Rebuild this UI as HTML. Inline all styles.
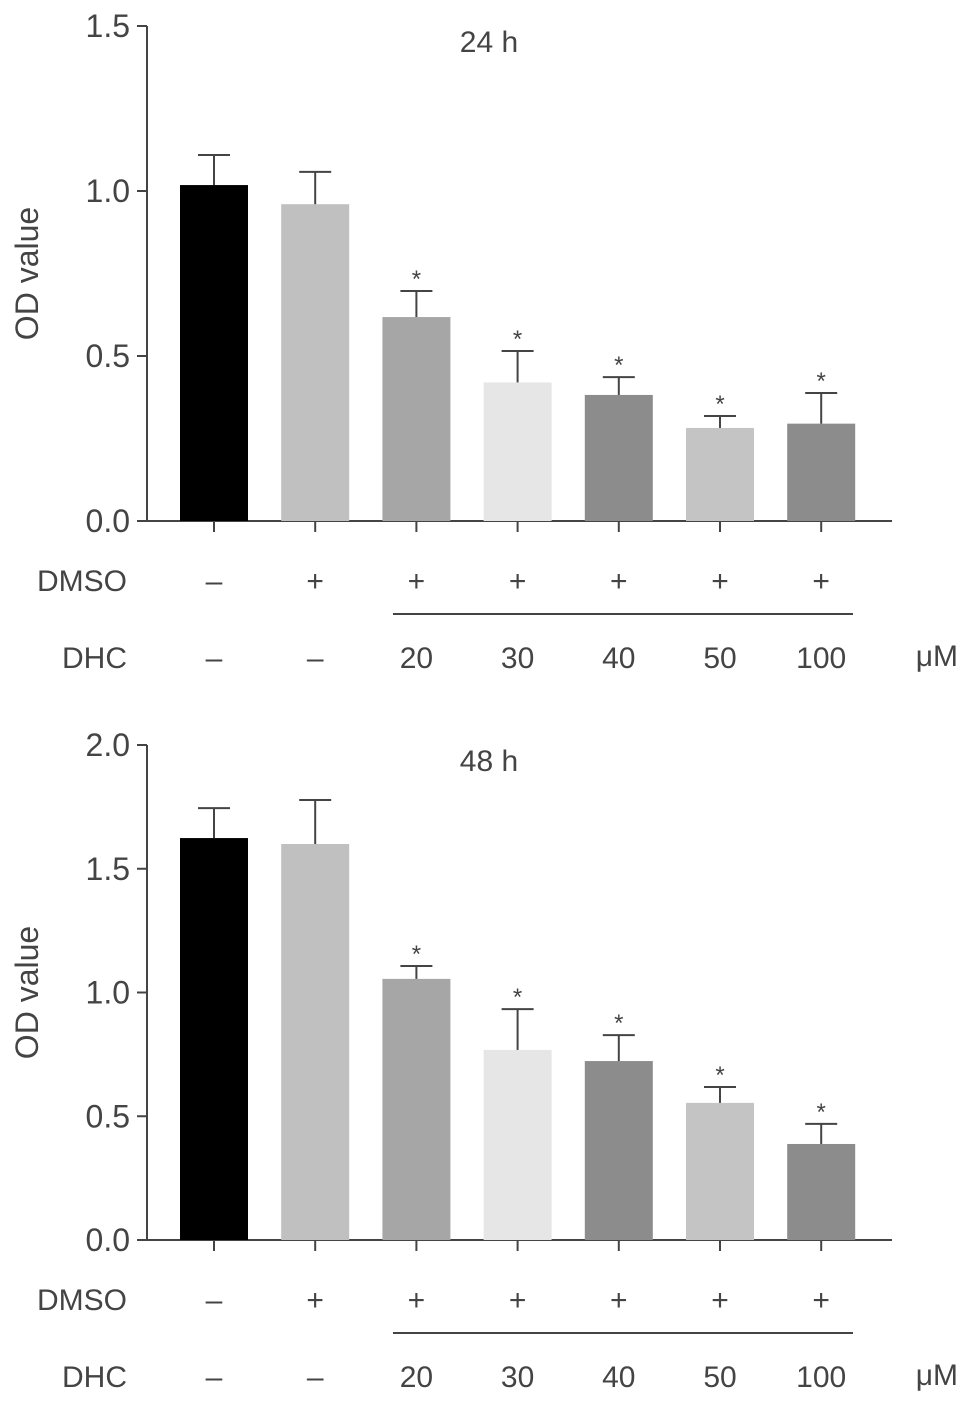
<!DOCTYPE html>
<html><head><meta charset="utf-8"><style>
body{margin:0;background:#fff;}
svg text{font-family:"Liberation Sans",sans-serif;fill:#444;}
</style></head><body>
<svg id="c" width="969" height="1404"></svg>
<script>
const categories=["DMSO only","DMSO+","DHC 20","DHC 30","DHC 40","DHC 50","DHC 100"];
const colors=["#000","#c0c0c0","#a6a6a6","#e6e6e6","#8c8c8c","#c4c4c4","#8c8c8c"];
const vals24=[1.018,0.96,0.618,0.42,0.382,0.282,0.295];
const err24=[1.109,1.058,0.697,0.515,0.436,0.318,0.388];
const vals48=[1.624,1.6,1.055,0.768,0.723,0.554,0.388];
const err48=[1.745,1.778,1.107,0.933,0.828,0.618,0.469];
const sig=[false,false,true,true,true,true,true];
const ticks24=["0.0","0.5","1.0","1.5"];
const ticks48=["0.0","0.5","1.0","1.5","2.0"];
const dmso=["\u2013","+","+","+","+","+","+"];
const dhc=["\u2013","\u2013","20","30","40","50","100"];
const NS="http://www.w3.org/2000/svg";
const svg=document.getElementById('c');
function mk(t,a,txt){const e=document.createElementNS(NS,t);for(const k in a)e.setAttribute(k,a[k]);if(txt!==undefined)e.textContent=txt;svg.appendChild(e);return e;}
function panel(y0,yTop,max,ticks,vals,errs,title,idx){
  const y=v=>y0-(v/max)*(y0-yTop);
  const x=i=>214+i*101.2;
  let e;
  e=mk('line',{x1:147,y1:yTop,x2:147,y2:y0,stroke:'#444','stroke-width':2});
  
  e=mk('line',{x1:137,y1:y0,x2:892,y2:y0,stroke:'#444','stroke-width':2});
  
  ticks.forEach((t,k)=>{const v=parseFloat(t);
    mk('line',{x1:137,y1:y(v),x2:147,y2:y(v),stroke:'#444','stroke-width':2});
    e=mk('text',{x:130,y:y(v)+11,'font-size':32,'text-anchor':'end'},t);
    });
  e=mk('text',{x:38,y:(y0+yTop)/2,'font-size':32,'text-anchor':'middle',transform:`rotate(-90 38 ${(y0+yTop)/2})`},'OD value');
  
  e=mk('text',{x:489,y:yTop+26,'font-size':30,'text-anchor':'middle'},title);
  
  vals.forEach((v,i)=>{
    e=mk('rect',{x:x(i)-34,y:y(v),width:68,height:y0-y(v),fill:colors[i]});
    
    mk('line',{x1:x(i),y1:y(v),x2:x(i),y2:y(errs[i]),stroke:'#444','stroke-width':2});
    mk('line',{x1:x(i)-16,y1:y(errs[i]),x2:x(i)+16,y2:y(errs[i]),stroke:'#444','stroke-width':2});
    if(sig[i]){e=mk('text',{x:x(i),y:y(errs[i])-4,'font-size':24,'text-anchor':'middle'},'*');
      }
    mk('line',{x1:x(i),y1:y0,x2:x(i),y2:y0+11,stroke:'#444','stroke-width':2});
    e=mk('text',{x:x(i),y:y0+70,'font-size':30,'text-anchor':'middle'},dmso[i]);
    
    e=mk('text',{x:x(i),y:y0+147,'font-size':30,'text-anchor':'middle'},dhc[i]);
    
  });
  e=mk('text',{x:127,y:y0+70,'font-size':30,'text-anchor':'end'},'DMSO');
  
  e=mk('text',{x:127,y:y0+147,'font-size':30,'text-anchor':'end'},'DHC');
  
  mk('line',{x1:393,y1:y0+93,x2:853,y2:y0+93,stroke:'#444','stroke-width':2});
  e=mk('text',{x:958,y:y0+145,'font-size':30,'text-anchor':'end'},'\u03bcM');
  
}
panel(521,26,1.5,ticks24,vals24,err24,'24 h','24h');
panel(1240,745,2.0,ticks48,vals48,err48,'48 h','48h');
</script>
</body></html>
